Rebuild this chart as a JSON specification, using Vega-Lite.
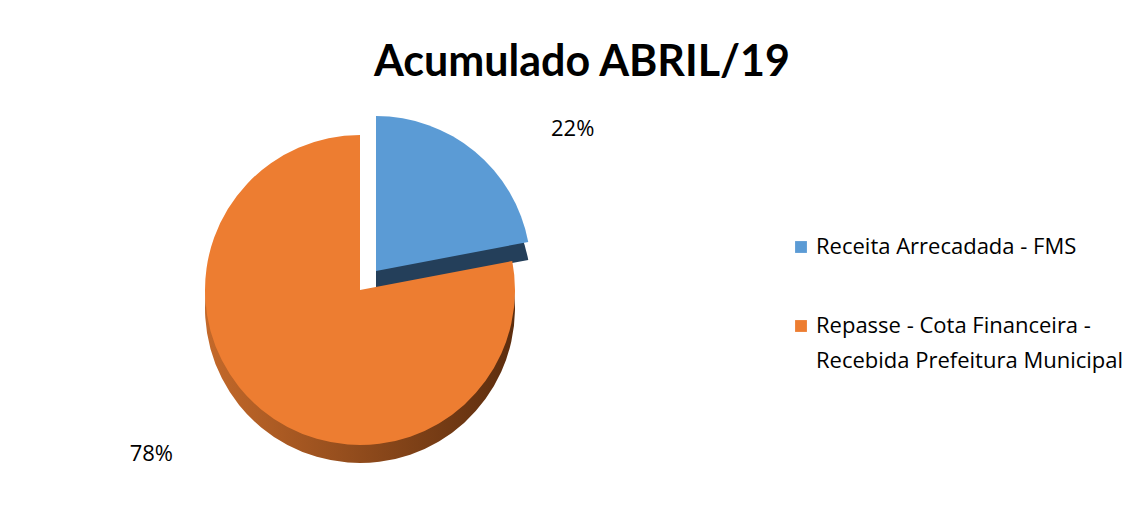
{
  "$schema": "https://vega.github.io/schema/vega-lite/v6.json",
  "autosize": "none",
  "width": 720,
  "height": 360,
  "padding": {"left": 0, "top": 110, "right": 424, "bottom": 38},
  "background": "white",
  "config": {"view": {"stroke": null}, "style": {"guide-label": {"lineHeight": 35}}},
  "title": {
    "text": "Acumulado ABRIL/19",
    "font": "Lato",
    "fontSize": 43,
    "fontWeight": "bold",
    "color": "#000000",
    "anchor": "middle",
    "frame": "group",
    "dx": 222,
    "offset": 25
  },
  "data": {
    "values": [
      {"cat": "Receita Arrecadada - FMS", "value": 22, "ord": 1, "label": "22%"},
      {"cat": "Repasse - Cota Financeira - Recebida Prefeitura Municipal", "value": 78, "ord": 2, "label": "78%"}
    ]
  },
  "encoding": {
    "theta": {"field": "value", "type": "quantitative", "stack": true},
    "order": {"field": "ord", "type": "quantitative"}
  },
  "layer": [
    {
      "mark": {"type": "arc", "outerRadius": 155, "xOffset": 16, "yOffset": -1, "fill": "#243F5A"},
      "encoding": {
        "opacity": {"condition": {"test": "datum.ord == 1", "value": 1}, "value": 0}
      }
    },
    {
      "mark": {"type": "arc", "outerRadius": 155, "xOffset": 16, "yOffset": -19},
      "encoding": {
        "color": {
          "field": "cat", "type": "nominal",
          "scale": {"domain": ["Receita Arrecadada - FMS", "Repasse - Cota Financeira - Recebida Prefeitura Municipal"], "range": ["#5B9BD5", "#ED7D31"]},
          "legend": {
            "orient": "none",
            "legendX": 790,
            "legendY": 126,
            "title": null,
            "symbolType": "square",
            "symbolSize": 140,
            "symbolStrokeWidth": 0,
            "labelFont": "Open Sans",
            "labelFontSize": 22,
            "labelColor": "#000000",
            "labelLimit": 400,
            "rowPadding": 57,
            "labelExpr": "datum.label == 'Receita Arrecadada - FMS' ? datum.label : ['Repasse - Cota Financeira -', 'Recebida Prefeitura Municipal']"
          }
        },
        "opacity": {"condition": {"test": "datum.ord == 1", "value": 1}, "value": 0}
      }
    },
    {
      "mark": {
        "type": "arc", "outerRadius": 155, "yOffset": 18,
        "fill": {"gradient": "linear", "x1": 0, "y1": 0, "x2": 1, "y2": 0,
          "stops": [{"offset": 0, "color": "#C4692A"}, {"offset": 1, "color": "#5C2D0E"}]}
      },
      "encoding": {
        "opacity": {"condition": {"test": "datum.ord == 2", "value": 1}, "value": 0}
      }
    },
    {
      "mark": {"type": "arc", "outerRadius": 155, "fill": "#ED7D31"},
      "encoding": {
        "opacity": {"condition": {"test": "datum.ord == 2", "value": 1}, "value": 0}
      }
    },
    {
      "mark": {"type": "text", "radius": 205, "font": "Open Sans", "fontSize": 22, "color": "#000000", "dx": 82, "dy": -3},
      "encoding": {
        "text": {"field": "label", "type": "nominal"},
        "opacity": {"condition": {"test": "datum.ord == 1", "value": 1}, "value": 0}
      }
    },
    {
      "mark": {"type": "text", "radius": 205, "font": "Open Sans", "fontSize": 22, "color": "#000000", "dx": -78, "dy": 6},
      "encoding": {
        "text": {"field": "label", "type": "nominal"},
        "opacity": {"condition": {"test": "datum.ord == 2", "value": 1}, "value": 0}
      }
    }
  ]
}
